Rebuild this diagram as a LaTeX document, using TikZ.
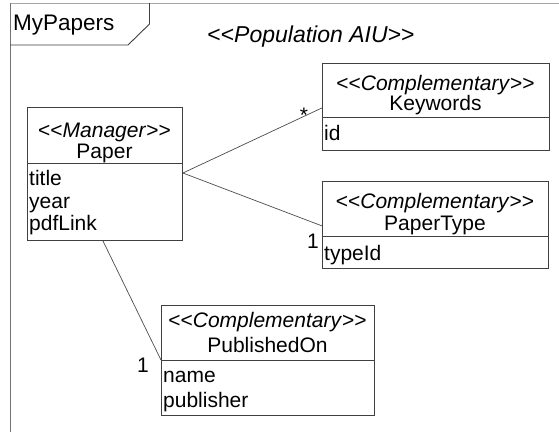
\documentclass[tikz,border=0pt]{standalone}
\usepackage{fontspec}
\setmainfont{Liberation Sans}
\usetikzlibrary{calc}
% stereotype brackets as single characters, kerned apart so they stay two angle brackets
\newcommand{\stopen}{\char60\kern0pt\char60}
\newcommand{\stclose}{\char62\kern0pt\char62}
\newcommand{\stereo}[1]{\stopen\textit{#1}\stclose}
\tikzset{
  compart/.style={draw=black!75, line width=0.9pt, anchor=north west, inner sep=0pt},
  txt/.style={inner sep=0pt, font=\fontsize{21}{22}\selectfont},
  ctxt/.style={txt, anchor=base},
  ltxt/.style={txt, anchor=base west},
  assoc/.style={draw=black!70, line width=0.7pt},
}
\begin{document}
\begin{tikzpicture}[x=1pt, y=-1pt]
\useasboundingbox (0,0) rectangle (559,432);
\fill[white] (0,0) rectangle (559,432);

% package frame and its name tab
\coordinate (frameTL) at (10,3);
\coordinate (frameTR) at (559,3);
\coordinate (frameBL) at (10,432);
\draw[draw=black!35, line width=0.9pt] (frameTL) -- (frameTR);
\draw[draw=black!55, line width=0.9pt] (frameTL) -- (frameBL);
\coordinate (tabA) at (10,45);
\coordinate (tabB) at (128,45);
\coordinate (tabC) at (149.5,24);
\coordinate (tabD) at (149.5,3);
\draw[draw=black!75, line width=0.9pt] (tabA) -- (tabB) -- (tabC) -- (tabD);
\node[ltxt, font=\fontsize{22.5}{23}\selectfont] (framename) at (13,30) {MyPapers};
\node[ctxt, font=\fontsize{23}{24}\selectfont] (popstereo) at (311,42) {\stereo{Population AIU}};

% class Paper
\node[compart, minimum width=155pt, minimum height=56pt] (paperH) at (27,107) {};
\node[compart, minimum width=155pt, minimum height=77pt] (paperA) at (27,163) {};
\node[ctxt] (paperS) at (104.5,137) {\stereo{Manager}};
\node[ctxt] (paperN) at (104.5,158) {Paper};
\node[ltxt] (paperT1) at (29,185) {title};
\node[ltxt] (paperT2) at (29,208) {year};
\node[ltxt] (paperT3) at (29,230) {pdfLink};

% class Keywords
\node[compart, minimum width=227pt, minimum height=54pt] (kwH) at (322,63) {};
\node[compart, minimum width=227pt, minimum height=33pt] (kwA) at (322,117) {};
\node[ctxt] (kwS) at (435.5,90) {\stereo{Complementary}};
\node[ctxt] (kwN) at (435.5,110) {Keywords};
\node[ltxt] (kwT1) at (324,140) {id};

% class PaperType
\node[compart, minimum width=226pt, minimum height=55pt] (ptH) at (322,181) {};
\node[compart, minimum width=226pt, minimum height=32pt] (ptA) at (322,236) {};
\node[ctxt] (ptS) at (435,208) {\stereo{Complementary}};
\node[ctxt] (ptN) at (435,230) {PaperType};
\node[ltxt] (ptT1) at (324,260) {typeId};

% class PublishedOn
\node[compart, minimum width=213pt, minimum height=55pt] (pubH) at (161,305) {};
\node[compart, minimum width=213pt, minimum height=55pt] (pubA) at (161,360) {};
\node[ctxt] (pubS) at (267.5,327) {\stereo{Complementary}};
\node[ctxt] (pubN) at (267.5,352) {PublishedOn};
\node[ltxt] (pubT1) at (163,382) {name};
\node[ltxt] (pubT2) at (163,407) {publisher};

% associations
\draw[assoc] ($(paperA.north east)+(0,10)$) -- ($(kwH.south west)+(0,-10)$);
\draw[assoc] ($(paperA.north east)+(0,10)$) -- ($(ptH.south west)+(0,-11)$);
\draw[assoc] ($(paperA.south)+(-2,0)$) -- (pubA.north west);

% multiplicities
\node[ctxt] (multKw) at (304,122) {*};
\node[ctxt] (multPt) at (313,248) {1};
\node[ctxt] (multPub) at (143,372) {1};
\end{tikzpicture}
\end{document}
